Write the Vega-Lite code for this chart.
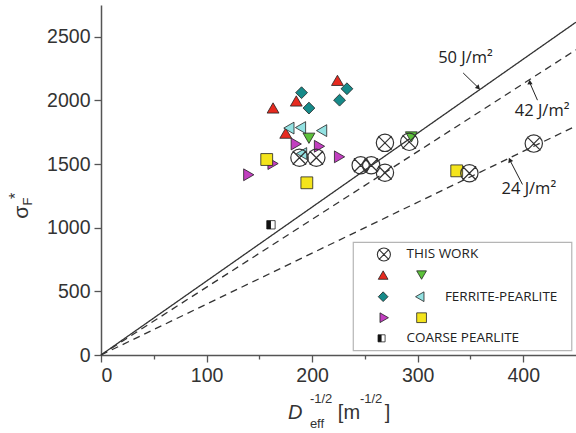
{
  "$schema": "https://vega.github.io/schema/vega-lite/v6.json",
  "width": 475,
  "height": 350,
  "autosize": {"type": "none"},
  "padding": {"left": 101, "top": 5, "right": 0, "bottom": 78},
  "background": "white",
  "config": {"view": {"stroke": null}},
  "datasets": {
    "lines": [
      {"g": "50", "x": 0, "y": 0}, {"g": "50", "x": 450, "y": 2615},
      {"g": "42", "x": 0, "y": 0}, {"g": "42", "x": 450, "y": 2398},
      {"g": "24", "x": 0, "y": 0}, {"g": "24", "x": 450, "y": 1800}
    ],
    "pts": [
      {"series": "red", "x": 163, "y": 1941}, {"series": "red", "x": 185, "y": 1996}, {"series": "red", "x": 224, "y": 2158}, {"series": "red", "x": 175, "y": 1743},
      {"series": "green", "x": 197, "y": 1703}, {"series": "green", "x": 294, "y": 1713},
      {"series": "teal", "x": 190, "y": 2061}, {"series": "teal", "x": 197, "y": 1940}, {"series": "teal", "x": 233, "y": 2092}, {"series": "teal", "x": 226, "y": 2002},
      {"series": "cyan", "x": 178, "y": 1783}, {"series": "cyan", "x": 189, "y": 1787}, {"series": "cyan", "x": 209, "y": 1763}, {"series": "cyan", "x": 190, "y": 1583},
      {"series": "purple", "x": 185, "y": 1658}, {"series": "purple", "x": 207, "y": 1640}, {"series": "purple", "x": 226, "y": 1557}, {"series": "purple", "x": 163, "y": 1504}, {"series": "purple", "x": 140, "y": 1416},
      {"series": "yellow", "x": 157, "y": 1536}, {"series": "yellow", "x": 195, "y": 1353}, {"series": "yellow", "x": 337, "y": 1447}
    ],
    "work": [
      {"x": 188, "y": 1550}, {"x": 204, "y": 1550}, {"x": 246, "y": 1491}, {"x": 256, "y": 1491}, {"x": 269, "y": 1432},
      {"x": 269, "y": 1667}, {"x": 292, "y": 1675}, {"x": 349, "y": 1428}, {"x": 410, "y": 1661}
    ],
    "coarse": [{"x": 161, "y": 1023}],
    "legbox": [{"x": 239, "x2": 446, "y": 885, "y2": 34}],
    "legsym": [
      {"series": "red", "x": 267.3, "y": 628}, {"series": "green", "x": 303.7, "y": 628},
      {"series": "teal", "x": 267.3, "y": 458}, {"series": "cyan", "x": 302, "y": 458},
      {"series": "purple", "x": 268.3, "y": 293}, {"series": "yellow", "x": 303.7, "y": 293}
    ],
    "legwork": [{"x": 268, "y": 790}],
    "legcoarse": [{"x": 265.8, "y": 131}],
    "legtext": [
      {"t": "THIS WORK", "x": 289.5, "y": 790},
      {"t": "FERRITE-PEARLITE", "x": 325.8, "y": 458},
      {"t": "COARSE PEARLITE", "x": 289.5, "y": 131}
    ],
    "ann": [
      {"t": "50 J/m²", "x": 319.4, "y": 2335},
      {"t": "42 J/m²", "x": 392, "y": 1917},
      {"t": "24 J/m²", "x": 379.4, "y": 1301}
    ],
    "arrows": [
      {"g": "50", "x": 343.1, "y": 2216, "x2": 357, "y2": 2104},
      {"g": "42", "x": 413.5, "y": 2002, "x2": 406.3, "y2": 2138},
      {"g": "24", "x": 399.3, "y": 1340, "x2": 387.6, "y2": 1527}
    ],
    "titlebig": [
      {"t": "[m", "x": 224.4, "y": -455},
      {"t": "]", "x": 268.9, "y": -455}
    ],
    "titlesmall": [
      {"t": "-1/2", "x": 197.9, "y": -345},
      {"t": "eff", "x": 197.9, "y": -540},
      {"t": "-1/2", "x": 245.3, "y": -345}
    ],
    "titleD": [{"t": "D", "x": 177.1, "y": -455}],
    "ysigma": [{"t": "σ", "x": -74.8, "y": 1122}],
    "ystar": [{"t": "*", "x": -80.5, "y": 1251}],
    "ysub": [{"t": "F", "x": -68.8, "y": 1206}]
  },
  "layer": [
    {
      "data": {"name": "lines"},
      "mark": {"type": "line", "color": "#333", "strokeWidth": 1.3},
      "encoding": {
        "x": {
          "field": "x", "type": "quantitative",
          "scale": {"domain": [0, 450], "nice": false, "zero": false},
          "axis": {
            "values": [0, 50, 100, 150, 200, 250, 300, 350, 400],
            "format": "d",
            "labelExpr": "datum.value % 100 === 0 ? datum.label : ''",
            "title": null, "grid": false,
            "domainColor": "#555", "domainWidth": 1.5,
            "tickColor": "#555", "tickWidth": 1.3,
            "tickSize": {"condition": {"test": "datum.value % 100 === 0", "value": 7}, "value": 4},
            "labelFont": "Liberation Sans", "labelFontSize": 19.5, "labelColor": "#333", "labelPadding": 4
          }
        },
        "y": {
          "field": "y", "type": "quantitative",
          "scale": {"domain": [0, 2750], "nice": false, "zero": false},
          "axis": {
            "values": [0, 250, 500, 750, 1000, 1250, 1500, 1750, 2000, 2250, 2500],
            "format": "d",
            "labelExpr": "datum.value % 500 === 0 ? datum.label : ''",
            "title": null, "grid": false,
            "domainColor": "#555", "domainWidth": 1.5,
            "tickColor": "#555", "tickWidth": 1.3,
            "tickSize": {"condition": {"test": "datum.value % 500 === 0", "value": 7}, "value": 4},
            "labelFont": "Liberation Sans", "labelFontSize": 19.5, "labelColor": "#333", "labelPadding": 4
          }
        },
        "detail": {"field": "g", "type": "nominal"},
        "strokeDash": {"field": "g", "type": "nominal", "scale": {"domain": ["50", "42", "24"], "range": [[1, 0], [7, 5], [7, 5]]}, "legend": null}
      }
    },
    {
      "mark": {"type": "rule", "color": "#555", "strokeWidth": 1.5},
      "encoding": {
        "x": {"datum": 0, "type": "quantitative"},
        "x2": {"datum": 450},
        "y": {"datum": 2750, "type": "quantitative"}
      }
    },
    {
      "data": {"name": "legbox"},
      "mark": {"type": "rect", "fill": "white", "stroke": "#b5b5b5", "strokeWidth": 1.2, "opacity": 1},
      "encoding": {
        "x": {"field": "x", "type": "quantitative"},
        "x2": {"field": "x2"},
        "y": {"field": "y", "type": "quantitative"},
        "y2": {"field": "y2"}
      }
    },
    {
      "data": {"name": "pts"},
      "mark": {"type": "point", "filled": true, "opacity": 1, "stroke": "#222", "strokeWidth": 0.8},
      "encoding": {
        "x": {"field": "x", "type": "quantitative"},
        "y": {"field": "y", "type": "quantitative"},
        "shape": {"field": "series", "type": "nominal", "scale": {"domain": ["red", "green", "teal", "cyan", "purple", "yellow"], "range": ["triangle-up", "triangle-down", "diamond", "triangle-left", "triangle-right", "square"]}, "legend": null},
        "color": {"field": "series", "type": "nominal", "scale": {"domain": ["red", "green", "teal", "cyan", "purple", "yellow"], "range": ["#e62a1f", "#5cc23a", "#168a89", "#93e2e2", "#c23fc0", "#f4e41c"]}, "legend": null},
        "size": {"field": "series", "type": "nominal", "scale": {"domain": ["red", "green", "teal", "cyan", "purple", "yellow"], "range": [140, 140, 165, 140, 140, 64]}, "legend": null}
      }
    },
    {
      "data": {"name": "coarse"},
      "mark": {"type": "point", "shape": "square", "filled": true, "fill": "white", "stroke": "#222", "strokeWidth": 0.8, "size": 70, "opacity": 1},
      "encoding": {"x": {"field": "x", "type": "quantitative"}, "y": {"field": "y", "type": "quantitative"}}
    },
    {
      "data": {"name": "coarse"},
      "mark": {"type": "point", "shape": "M-1,-1L0,-1L0,1L-1,1Z", "filled": true, "fill": "#111", "strokeWidth": 0, "size": 70, "opacity": 1},
      "encoding": {"x": {"field": "x", "type": "quantitative"}, "y": {"field": "y", "type": "quantitative"}}
    },
    {
      "data": {"name": "work"},
      "mark": {"type": "point", "shape": "M1,0A1,1 0 1,1 -1,0A1,1 0 1,1 1,0Z M-0.78,-0.78L0.78,0.78M-0.78,0.78L0.78,-0.78", "filled": false, "stroke": "#333", "strokeWidth": 1.2, "size": 300, "opacity": 1},
      "encoding": {"x": {"field": "x", "type": "quantitative"}, "y": {"field": "y", "type": "quantitative"}}
    },
    {
      "data": {"name": "legsym"},
      "mark": {"type": "point", "filled": true, "opacity": 1, "stroke": "#222", "strokeWidth": 0.8, "size": 95},
      "encoding": {
        "x": {"field": "x", "type": "quantitative"},
        "y": {"field": "y", "type": "quantitative"},
        "shape": {"field": "series", "type": "nominal", "legend": null},
        "color": {"field": "series", "type": "nominal", "legend": null}
      }
    },
    {
      "data": {"name": "legwork"},
      "mark": {"type": "point", "shape": "M1,0A1,1 0 1,1 -1,0A1,1 0 1,1 1,0Z M-0.78,-0.78L0.78,0.78M-0.78,0.78L0.78,-0.78", "filled": false, "stroke": "#333", "strokeWidth": 1.1, "size": 170, "opacity": 1},
      "encoding": {"x": {"field": "x", "type": "quantitative"}, "y": {"field": "y", "type": "quantitative"}}
    },
    {
      "data": {"name": "legcoarse"},
      "mark": {"type": "point", "shape": "square", "filled": true, "fill": "white", "stroke": "#222", "strokeWidth": 0.8, "size": 50, "opacity": 1},
      "encoding": {"x": {"field": "x", "type": "quantitative"}, "y": {"field": "y", "type": "quantitative"}}
    },
    {
      "data": {"name": "legcoarse"},
      "mark": {"type": "point", "shape": "M-1,-1L0,-1L0,1L-1,1Z", "filled": true, "fill": "#111", "strokeWidth": 0, "size": 50, "opacity": 1},
      "encoding": {"x": {"field": "x", "type": "quantitative"}, "y": {"field": "y", "type": "quantitative"}}
    },
    {
      "data": {"name": "legtext"},
      "mark": {"type": "text", "align": "left", "baseline": "middle", "font": "Open Sans", "fontSize": 13.5, "color": "#222"},
      "encoding": {"x": {"field": "x", "type": "quantitative"}, "y": {"field": "y", "type": "quantitative"}, "text": {"field": "t"}}
    },
    {
      "data": {"name": "ann"},
      "mark": {"type": "text", "align": "left", "baseline": "middle", "font": "Open Sans", "fontSize": 16.5, "color": "#222"},
      "encoding": {"x": {"field": "x", "type": "quantitative"}, "y": {"field": "y", "type": "quantitative"}, "text": {"field": "t"}}
    },
    {
      "data": {"name": "arrows"},
      "mark": {"type": "rule", "color": "#222", "strokeWidth": 1},
      "encoding": {
        "x": {"field": "x", "type": "quantitative"}, "y": {"field": "y", "type": "quantitative"},
        "x2": {"field": "x2"}, "y2": {"field": "y2"}
      }
    },
    {
      "data": {"name": "arrows"},
      "mark": {"type": "point", "shape": "triangle", "filled": true, "fill": "#222", "size": 28, "opacity": 1},
      "encoding": {
        "x": {"field": "x2", "type": "quantitative"}, "y": {"field": "y2", "type": "quantitative"},
        "angle": {"field": "g", "type": "nominal", "scale": {"domain": ["50", "42", "24"], "range": [135, 336, 332]}, "legend": null}
      }
    },
    {
      "data": {"name": "titleD"},
      "mark": {"type": "text", "align": "left", "baseline": "middle", "font": "Liberation Sans", "fontSize": 20, "fontStyle": "italic", "color": "#333"},
      "encoding": {"x": {"field": "x", "type": "quantitative"}, "y": {"field": "y", "type": "quantitative"}, "text": {"field": "t"}}
    },
    {
      "data": {"name": "titlebig"},
      "mark": {"type": "text", "align": "left", "baseline": "middle", "font": "Liberation Sans", "fontSize": 20, "color": "#333"},
      "encoding": {"x": {"field": "x", "type": "quantitative"}, "y": {"field": "y", "type": "quantitative"}, "text": {"field": "t"}}
    },
    {
      "data": {"name": "titlesmall"},
      "mark": {"type": "text", "align": "left", "baseline": "middle", "font": "Liberation Sans", "fontSize": 13, "color": "#333"},
      "encoding": {"x": {"field": "x", "type": "quantitative"}, "y": {"field": "y", "type": "quantitative"}, "text": {"field": "t"}}
    },
    {
      "data": {"name": "ysigma"},
      "mark": {"type": "text", "align": "center", "baseline": "middle", "angle": 270, "font": "Liberation Sans", "fontSize": 21, "color": "#333"},
      "encoding": {"x": {"field": "x", "type": "quantitative"}, "y": {"field": "y", "type": "quantitative"}, "text": {"field": "t"}}
    },
    {
      "data": {"name": "ystar"},
      "mark": {"type": "text", "align": "center", "baseline": "middle", "angle": 270, "font": "Liberation Sans", "fontSize": 16, "color": "#333"},
      "encoding": {"x": {"field": "x", "type": "quantitative"}, "y": {"field": "y", "type": "quantitative"}, "text": {"field": "t"}}
    },
    {
      "data": {"name": "ysub"},
      "mark": {"type": "text", "align": "center", "baseline": "middle", "angle": 270, "font": "Liberation Sans", "fontSize": 13, "color": "#333"},
      "encoding": {"x": {"field": "x", "type": "quantitative"}, "y": {"field": "y", "type": "quantitative"}, "text": {"field": "t"}}
    }
  ]
}
